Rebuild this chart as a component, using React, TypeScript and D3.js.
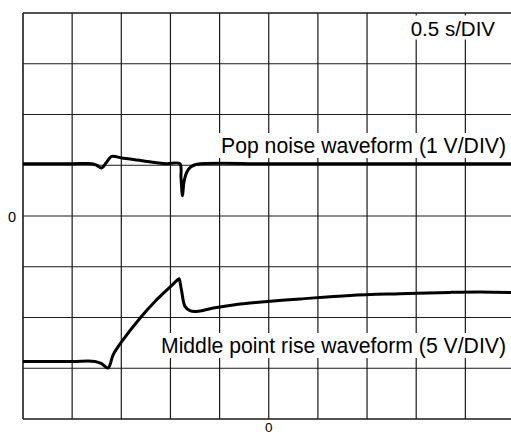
import React, { useLayoutEffect, useRef, useState } from "react";
import * as d3 from "d3";

// Time axis in divisions (0.5 s/DIV), voltage in divisions
const popTime = [0, 1.0, 1.4, 1.5, 1.6, 1.7, 1.805, 2.008, 2.177, 2.517, 2.72, 2.924, 3.19, 3.215, 3.245, 3.276, 3.337, 3.418, 3.54, 5, 7.5, 10];
const popValue = [1.03, 1.03, 1.03, 1.0, 0.946, 1.06, 1.174, 1.143, 1.124, 1.076, 1.05, 1.03, 1.03, 0.75, 0.4, 0.676, 0.873, 0.971, 1.02, 1.03, 1.03, 1.03];

const midTime = [0, 1.0, 1.465, 1.6, 1.729, 1.837, 2.0, 2.401, 2.7, 3.005, 3.127, 3.174, 3.204, 3.229, 3.296, 3.398, 3.534, 3.872, 4.415, 4.619, 5.636, 6.653, 7.67, 8.688, 9.3, 10];
const midValue = [-2.865, -2.865, -2.865, -2.91, -2.995, -2.73, -2.487, -1.99, -1.67, -1.387, -1.275, -1.235, -1.355, -1.486, -1.781, -1.866, -1.88, -1.813, -1.734, -1.714, -1.635, -1.565, -1.531, -1.505, -1.498, -1.51];

const xDivs = d3.range(0, 11);
const yDivs = d3.range(-4, 5);
const xTickLabels = [{ at: 5, text: "0" }];
const yTickLabels = [{ at: 0, text: "0" }];
const timeLabel = "0.5 s/DIV";
const popLabel = "Pop noise waveform (1 V/DIV)";
const midLabel = "Middle point rise waveform (5 V/DIV)";

const W = 511;
const H = 435;
const FONT = "'Liberation Sans', Arial, Helvetica, sans-serif";

function Label({ x, y, text, size, anchor }: { x: number; y: number; text: string; size: number; anchor: string }) {
  const ref = useRef<SVGTextElement>(null);
  const [box, setBox] = useState<{ x: number; y: number; w: number; h: number } | null>(null);
  useLayoutEffect(() => {
    if (ref.current) {
      const b = ref.current.getBBox();
      setBox({ x: b.x, y: b.y, w: b.width, h: b.height });
    }
  }, [text, x, y, size]);
  return (
    <g>
      {box && <rect x={box.x - 2} y={box.y - 1} width={box.w + 4} height={box.h + 1} fill="#fff" />}
      <text ref={ref} x={x} y={y} fontSize={size} fontFamily={FONT} textAnchor={anchor} fill="#000">
        {text}
      </text>
    </g>
  );
}

export default function App() {
  const x = d3.scaleLinear().domain([0, 10]).range([23, 514.5]);
  const y = d3.scaleLinear().domain([-4, 4]).range([419, 13]);

  const mk = d3
    .line<[number, number]>()
    .x((d) => x(d[0]))
    .y((d) => y(d[1]))
    .curve(d3.curveCatmullRom.alpha(0.5));

  const popPath = mk(popTime.map((t, i) => [t, popValue[i]] as [number, number]));
  const midPath = mk(midTime.map((t, i) => [t, midValue[i]] as [number, number]));

  return (
    <svg width={W} height={H} style={{ position: "absolute", left: 0, top: 0, background: "#fff" }}>
      <g>
        {xDivs.map((d) => (
          <line key={"vx" + d} x1={x(d)} x2={x(d)} y1={y(-4)} y2={y(4)} stroke="#1a1a1a" strokeWidth={d === 0 ? 1.6 : 1.2} />
        ))}
        {yDivs.map((d) => (
          <line key={"hy" + d} x1={x(0)} x2={x(10)} y1={y(d)} y2={y(d)} stroke="#1a1a1a" strokeWidth={d === -4 || d === 4 ? 1.6 : 1.2} />
        ))}
      </g>
      <Label x={495} y={35.5} text={timeLabel} size={20.5} anchor="end" />
      <Label x={506} y={153} text={popLabel} size={21.2} anchor="end" />
      <Label x={506} y={353} text={midLabel} size={21.2} anchor="end" />
      <path d={popPath || ""} fill="none" stroke="#000" strokeWidth={3} strokeLinejoin="round" />
      <path d={midPath || ""} fill="none" stroke="#000" strokeWidth={3} strokeLinejoin="round" />
      {yTickLabels.map((t) => (
        <text key={"yl" + t.at} x={12} y={y(t.at) + 5.5} fontSize={14.5} fontFamily={FONT} textAnchor="middle">
          {t.text}
        </text>
      ))}
      {xTickLabels.map((t) => (
        <text key={"xl" + t.at} x={x(t.at)} y={431.5} fontSize={13.5} fontFamily={FONT} textAnchor="middle">
          {t.text}
        </text>
      ))}
    </svg>
  );
}
